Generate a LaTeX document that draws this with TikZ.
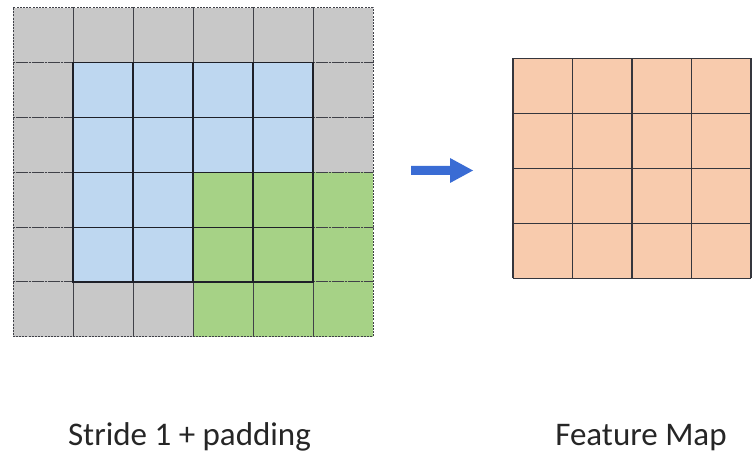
\documentclass[tikz,border=0pt]{standalone}
\usepackage{fontspec}
\setmainfont{Carlito}
\definecolor{padgray}{RGB}{200,200,200}
\definecolor{inblue}{RGB}{190,215,240}
\definecolor{kgreen}{RGB}{166,210,134}
\definecolor{fmorange}{RGB}{248,203,173}
\definecolor{arrowblue}{RGB}{58,108,212}
\definecolor{gridline}{RGB}{30,32,40}
\tikzset{
  padline/.style={draw=gridline!85, line width=1pt, dash pattern=on 2pt off 1.2pt},
  cellline/.style={draw=gridline, line width=1.1pt},
  fmline/.style={draw=gridline!90, line width=1.1pt},
  caption/.style={font=\fontsize{33}{38}\selectfont, text=black!85, anchor=base, inner sep=0pt},
}
\begin{document}
\begin{tikzpicture}[x=1pt,y=-1pt]
\useasboundingbox (0,0) rectangle (755,454);

% padded input: 6x6 cells, cell size 60 x 54.8
\def\gx{13}\def\gy{8}\def\cw{60}\def\ch{54.8}
\fill[padgray] (\gx,\gy) rectangle ++(6*\cw,6*\ch);
\fill[inblue] (\gx+\cw,\gy+\ch) rectangle ++(4*\cw,4*\ch);
\fill[kgreen] (\gx+3*\cw,\gy+3*\ch) rectangle ++(3*\cw,3*\ch);

% padding cells: dashed borders
\foreach \i in {0,...,5}{
  \foreach \j in {0,...,5}{
    \pgfmathtruncatemacro{\ispad}{(\i==0)||(\i==5)||(\j==0)||(\j==5)}
    \ifnum\ispad=1
      \draw[padline] (\gx+\i*\cw,\gy+\j*\ch) rectangle ++(\cw,\ch);
    \fi
  }
}
% inner cells: solid borders
\foreach \i in {1,...,4}{
  \foreach \j in {1,...,4}{
    \draw[cellline] (\gx+\i*\cw,\gy+\j*\ch) rectangle ++(\cw,\ch);
  }
}

% arrow
\fill[arrowblue] (411,166) -- (450,166) -- (450,158) -- (473,170.5)
  -- (450,183) -- (450,175) -- (411,175) -- cycle;

% feature map: 4x4 cells
\def\fx{513}\def\fy{58.5}\def\fw{59.5}\def\fh{54.9}
\fill[fmorange] (\fx,\fy) rectangle ++(4*\fw,4*\fh);
\foreach \i in {0,...,4}{
  \draw[fmline] (\fx+\i*\fw,\fy) -- ++(0,4*\fh);
  \draw[fmline] (\fx,\fy+\i*\fh) -- ++(4*\fw,0);
}

% captions
\node[caption] (leftcap) at (189.5,445) {Stride 1 + padding};
\node[caption] (rightcap) at (641,445) {Feature Map};
\end{tikzpicture}
\end{document}
